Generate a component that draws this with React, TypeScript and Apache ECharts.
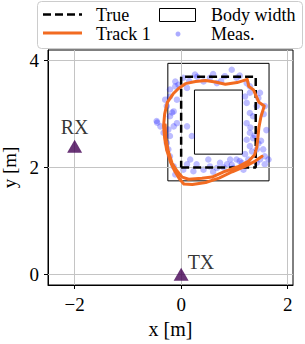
import React, { useEffect, useRef } from "react";
import * as echarts from "echarts";

const xTicks = [-2, 0, 2];
const yTicks = [0, 2, 4];

const trueRect = [[0, 2.0], [1.4, 2.0], [1.4, 3.7], [0, 3.7], [0, 2.0]];
const bodyOuter = [[-0.25, 1.75], [1.65, 1.75], [1.65, 3.95], [-0.25, 3.95], [-0.25, 1.75]];
const bodyInner = [[0.25, 2.25], [1.15, 2.25], [1.15, 3.45], [0.25, 3.45], [0.25, 2.25]];

const rx = [[-2, 2.4]];
const tx = [[0, 0]];

const track1 = [
  [1.52, 2.21], [1.39, 2.12], [1.2, 2.02], [0.96, 1.92], [0.71, 1.8], [0.46, 1.72],
  [0.21, 1.68], [0.05, 1.69], [-0.04, 1.8], [-0.13, 1.95], [-0.2, 2.1], [-0.27, 2.32],
  [-0.31, 2.55], [-0.33, 2.78], [-0.31, 3.0], [-0.26, 3.22], [-0.15, 3.38], [-0.05, 3.48],
  [0.08, 3.57], [0.27, 3.61], [0.46, 3.63], [0.64, 3.6], [0.83, 3.56], [1.05, 3.59],
  [1.24, 3.65], [1.27, 3.52], [1.36, 3.45], [1.46, 3.22], [1.56, 3.15], [1.5, 2.96],
  [1.46, 2.75], [1.44, 2.55], [1.42, 2.38], [1.38, 2.24], [1.27, 2.12], [1.08, 2.02],
  [0.83, 1.93], [0.58, 1.82], [0.39, 1.8], [0.14, 1.78], [0.02, 1.82], [-0.08, 1.94],
  [-0.17, 2.08], [-0.24, 2.3], [-0.29, 2.55], [-0.3, 2.8],
];

const meas = [
  [-0.11, 3.61], [0.04, 3.68], [0.26, 3.74], [0.42, 3.61], [0.67, 3.58], [0.95, 3.83],
  [1.04, 3.68], [0.82, 3.71], [0.54, 3.68], [0.11, 3.49], [1.23, 3.58], [1.29, 3.52],
  [1.29, 3.4], [1.2, 3.33], [1.23, 3.21], [1.42, 3.15], [1.57, 3.15], [1.48, 3.4],
  [1.29, 3.02], [1.35, 2.96], [1.23, 2.83], [1.29, 2.65], [1.35, 2.55], [1.23, 2.52],
  [1.29, 2.4], [1.42, 2.34], [1.54, 2.34], [1.57, 2.21], [1.48, 2.15], [1.42, 2.09],
  [1.26, 2.15], [1.14, 2.09], [1.04, 2.15], [0.92, 2.15], [0.86, 2.06], [0.73, 2.09],
  [0.67, 1.99], [0.54, 2.02], [0.42, 1.96], [0.23, 1.93], [0.17, 2.15], [0.11, 2.06],
  [0.04, 1.96], [-0.11, 1.87], [-0.14, 2.02], [-0.21, 2.21], [-0.24, 2.34], [-0.27, 2.46],
  [-0.21, 2.59], [-0.33, 2.65], [-0.24, 2.71], [-0.14, 2.77], [-0.08, 2.83], [-0.21, 2.96],
  [-0.14, 3.05], [-0.27, 3.15], [-0.3, 3.27], [-0.21, 3.33], [-0.08, 3.27], [-0.11, 3.52],
  [-0.21, 3.46], [-0.46, 2.87], [-0.39, 2.77], [0.11, 2.77], [0.2, 2.59], [0.29, 2.06],
  [0.51, 2.15], [0.98, 1.99], [1.17, 1.96], [1.57, 2.06], [1.64, 2.15], [1.3, 2.75],
  [1.38, 2.6], [1.45, 2.45], [1.33, 2.3], [1.1, 2.12], [0.95, 2.05], [0.8, 2.0],
  [0.6, 1.92], [1.2, 2.25], [1.5, 2.5], [-0.45, 2.84], [-0.17, 3.03], [0.3, 3.7],
  [0.6, 3.75], [0.75, 3.62], [1.1, 3.72], [0.15, 3.62], [-0.05, 3.55], [1.55, 3.0],
  [1.6, 2.7], [1.45, 3.3],
];

const FONT = "'Liberation Serif', 'DejaVu Serif', serif";
const ORANGE = "#f26b21";
const PURPLE = "#440154";
const MEAS = "rgba(0, 0, 255, 0.33)";

const fmt = (v: number) => (v < 0 ? "\u2212" + Math.abs(v) : String(v));

export default function App() {
  const ref = useRef<HTMLDivElement>(null);
  useEffect(() => {
    if (!ref.current) return;
    const chart = echarts.init(ref.current, null, { renderer: "svg" });
    const gridLines = [
      ...xTicks.map((v) => ({ xAxis: v })),
      ...yTicks.map((v) => ({ yAxis: v })),
    ];
    chart.setOption({
      animation: false,
      grid: {
        left: 48, right: 12, top: 50, bottom: 59,
        show: true, borderColor: "#000", borderWidth: 1,
        backgroundColor: "transparent",
        outerBoundsMode: "none",
      },
      xAxis: {
        type: "value", min: -2.5, max: 2.1,
        name: "x [m]", nameLocation: "middle", nameGap: 32,
        nameTextStyle: { fontFamily: FONT, fontSize: 20, color: "#000" },
        axisLine: { show: true, onZero: false, lineStyle: { color: "#000", width: 1 } },
        axisTick: { show: true, inside: false, length: 4, customValues: xTicks, lineStyle: { color: "#000" } },
        axisLabel: { customValues: xTicks, formatter: fmt, margin: 10, fontFamily: FONT, fontSize: 19, color: "#000" },
        splitLine: { show: false },
      },
      yAxis: {
        type: "value", min: -0.2, max: 4.2,
        name: "y [m]", nameLocation: "middle", nameGap: 24, nameRotate: 90,
        nameTextStyle: { fontFamily: FONT, fontSize: 19, color: "#000" },
        axisLine: { show: true, onZero: false, lineStyle: { color: "#000", width: 1 } },
        axisTick: { show: true, inside: false, length: 4, customValues: yTicks, lineStyle: { color: "#000" } },
        axisLabel: { customValues: yTicks, formatter: fmt, margin: 9, fontFamily: FONT, fontSize: 19, color: "#000" },
        splitLine: { show: false },
      },
      series: [
        {
          type: "line", data: [], z: 1, silent: true,
          markLine: {
            silent: true, symbol: ["none", "none"], label: { show: false },
            lineStyle: { type: "solid", color: "#c4c4c4", width: 1 },
            data: gridLines, animation: false,
          },
        },
        {
          type: "line", data: bodyOuter, showSymbol: false, symbol: "none", z: 3,
          lineStyle: { color: "#000", width: 1 },
        },
        {
          type: "line", data: bodyInner, showSymbol: false, symbol: "none", z: 3,
          lineStyle: { color: "#000", width: 1 },
        },
        {
          type: "scatter", data: meas, symbolSize: 6.5, z: 4,
          itemStyle: { color: MEAS },
        },
        {
          type: "line", data: trueRect, showSymbol: false, symbol: "none", z: 5,
          lineStyle: { color: "#000", width: 2.5, type: [8, 4] },
        },
        {
          type: "line", data: track1, showSymbol: false, symbol: "none", z: 6,
          lineStyle: { color: ORANGE, width: 3, cap: "round", join: "round" },
        },
        {
          type: "scatter", data: rx, symbol: "triangle", symbolSize: [15, 13], z: 7,
          itemStyle: { color: PURPLE },
          label: {
            show: true, formatter: "RX", position: "top", distance: 3,
            fontFamily: FONT, fontSize: 20, color: "#000",
          },
        },
        {
          type: "scatter", data: tx, symbol: "triangle", symbolSize: [15, 13], z: 7,
          itemStyle: { color: PURPLE },
          label: {
            show: true, formatter: "TX", position: "right", distance: 0, offset: [-1, -12],
            fontFamily: FONT, fontSize: 20, color: "#000",
          },
        },
      ],
      graphic: [
        {
          type: "rect", z: 100,
          shape: { x: 37.5, y: 1.5, width: 265, height: 47, r: 4 },
          style: { fill: "rgba(255,255,255,0.85)", stroke: "#cccccc", lineWidth: 1 },
        },
        {
          type: "line", z: 101,
          shape: { x1: 43, y1: 14.5, x2: 82, y2: 14.5 },
          style: { stroke: "#000", lineWidth: 2.5, lineDash: [8, 4] },
        },
        {
          type: "line", z: 101,
          shape: { x1: 43, y1: 33, x2: 82, y2: 33 },
          style: { stroke: ORANGE, lineWidth: 3 },
        },
        {
          type: "rect", z: 101,
          shape: { x: 159.5, y: 8.5, width: 36, height: 13 },
          style: { fill: "none", stroke: "#000", lineWidth: 1 },
        },
        {
          type: "circle", z: 101,
          shape: { cx: 178, cy: 34, r: 2.5 },
          style: { fill: MEAS },
        },
        {
          type: "text", z: 101, x: 96, y: 15,
          style: { text: "True", font: `18px ${FONT}`, fill: "#000", verticalAlign: "middle" },
        },
        {
          type: "text", z: 101, x: 96, y: 34,
          style: { text: "Track 1", font: `18px ${FONT}`, fill: "#000", verticalAlign: "middle" },
        },
        {
          type: "text", z: 101, x: 211, y: 15,
          style: { text: "Body width", font: `18px ${FONT}`, fill: "#000", verticalAlign: "middle" },
        },
        {
          type: "text", z: 101, x: 211, y: 34,
          style: { text: "Meas.", font: `18px ${FONT}`, fill: "#000", verticalAlign: "middle" },
        },
      ],
    });
    return () => chart.dispose();
  }, []);
  return (
    <div
      ref={ref}
      style={{ position: "absolute", left: 0, top: 0, width: 305, height: 344 }}
    />
  );
}
